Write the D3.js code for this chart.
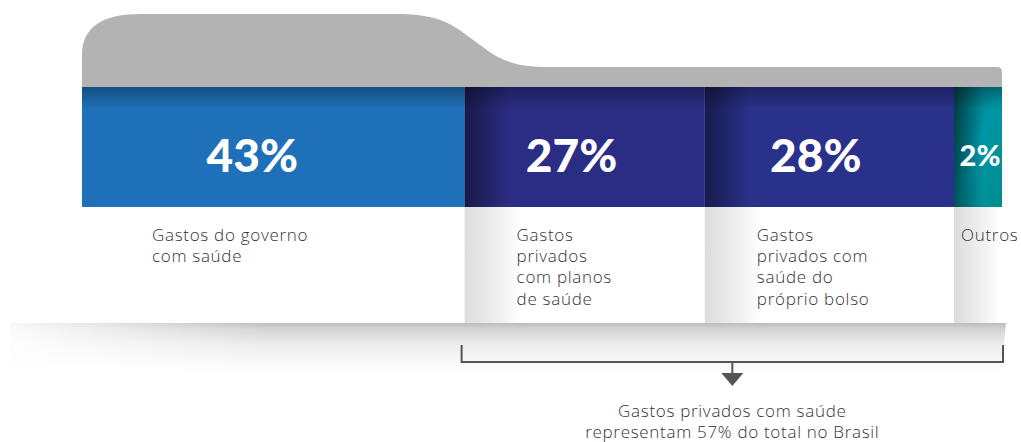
<!DOCTYPE html>
<html><head><meta charset="utf-8">
<script src="https://cdn.jsdelivr.net/npm/d3@7"></script>
<style>body{margin:0;background:#fff}svg{display:block}</style>
</head><body>
<svg id="c" width="1021" height="442"></svg>
<script>
// ---- data ----
const categories = ["governo", "planos", "bolso", "outros"];
const values = [43, 27, 28, 2];
const valueLabels = ["43%", "27%", "28%", "2%"];
const descriptions = [
  ["Gastos do governo", "com saúde"],
  ["Gastos", "privados", "com planos", "de saúde"],
  ["Gastos", "privados com", "saúde do", "próprio bolso"],
  ["Outros"]
];
const privateGroup = ["planos", "bolso", "outros"];
const summaryLines = ["Gastos privados com saúde", "representam 57% do total no Brasil"];
const colors = ["#1e71b8", "#2b2c83", "#29318a", "#00929b"];

// ---- layout ----
const svg = d3.select("#c");
const left = 82, right = 1002, barTop = 87, barBottom = 207, labelBottom = 323;
const x = d3.scaleLinear().domain([0, d3.sum(values)]).range([left, right]);
const minW = 48;
const rawW = values.map(v => x(v) - x(0));
const smallN = rawW.filter(w => w < minW).length;
const bigSum = d3.sum(rawW.filter(w => w >= minW));
const f = ((right - left) - smallN * minW) / bigSum;
const widths = rawW.map(w => w < minW ? minW : w * f);
const starts = [];
widths.reduce((acc, w, i) => { starts[i] = acc; return acc + w; }, left);
const segs = categories.map((c, i) => ({c, v: values[i], x0: starts[i], w: widths[i], i}));

const defs = svg.append("defs");
function lg(id, x1, y1, x2, y2, stops) {
  const g = defs.append("linearGradient").attr("id", id)
    .attr("x1", x1).attr("y1", y1).attr("x2", x2).attr("y2", y2);
  stops.forEach(s => g.append("stop").attr("offset", s[0]).attr("stop-color", s[1]).attr("stop-opacity", s[2] ?? 1));
}
lg("strip", 0, 0, 0, 1, [[0, "#bcbcbc"], [0.12, "#d4d4d4"], [0.45, "#ededed"], [1, "#ffffff"]]);
lg("stripL", 0, 0, 1, 0, [[0, "#ffffff", 0.9], [0.4, "#ffffff", 0.55], [1, "#ffffff", 0]]);
lg("panelL", 0, 0, 1, 0, [[0, "#dcdcdc"], [1, "#ffffff"]]);
lg("segL", 0, 0, 1, 0, [[0, "#000000", 0.45], [1, "#000000", 0]]);
lg("segT", 0, 0, 0, 1, [[0, "#000000", 0.3], [1, "#000000", 0]]);
lg("teal", 0, 0, 1, 1, [[0, "#006e7a"], [0.5, "#0096a6"], [1, "#008c8e"]]);

// bottom shadow strip
svg.append("path")
  .attr("d", `M10,${labelBottom} H1006 L1001,372 H10 Z`)
  .attr("fill", "url(#strip)");
svg.append("rect").attr("x", 10).attr("y", labelBottom).attr("width", 260).attr("height", 50)
  .attr("fill", "url(#stripL)");

// label panels
const panels = svg.append("g");
segs.forEach(s => {
  panels.append("rect").attr("x", s.x0).attr("y", barBottom).attr("width", s.w + (s.i === 3 ? 4 : 0))
    .attr("height", labelBottom - barBottom).attr("fill", "#fff");
  if (s.i > 0) {
    panels.append("rect").attr("x", s.x0).attr("y", barBottom).attr("width", Math.min(58, s.w))
      .attr("height", labelBottom - barBottom).attr("fill", "url(#panelL)");
  }
});

// gray tab
const b = starts[1];
svg.append("path")
  .attr("d", `M${left},${barTop} V55 C${left},26 ${left + 22},14 ${left + 58},14 H${b - 70}
    C${b - 35},14 ${b - 20},20 ${b - 5},30 L${b + 25},52 C${b + 40},62 ${b + 55},67 ${b + 85},67
    H${right - 5} Q${right},67 ${right},72 V${barTop} Z`)
  .attr("fill", "#b3b3b3");

// bars
const bars = svg.append("g");
bars.selectAll("rect.seg").data(segs).join("rect").attr("class", "seg")
  .attr("x", d => d.x0).attr("y", barTop).attr("width", d => d.w).attr("height", barBottom - barTop)
  .attr("fill", d => d.i === 3 ? "url(#teal)" : colors[d.i]);
bars.selectAll("rect.segl").data(segs.filter(d => d.i > 0)).join("rect").attr("class", "segl")
  .attr("x", d => d.x0).attr("y", barTop).attr("width", d => Math.min(45, d.w * 0.6)).attr("height", barBottom - barTop)
  .attr("fill", "url(#segL)");
bars.append("rect").attr("x", left).attr("y", barTop).attr("width", right - left).attr("height", 22)
  .attr("fill", "url(#segT)");

// percentages
svg.append("g").selectAll("text").data(segs).join("text")
  .attr("x", d => d.w > 100 ? d.x0 + d.w / 2 - d.w * 0.055 : d.x0 + d.w / 2 + 2)
  .attr("y", d => d.w > 100 ? 172 : 166)
  .attr("text-anchor", "middle")
  .attr("font-family", "Lato, 'Open Sans', sans-serif")
  .attr("font-weight", 900)
  .attr("font-size", d => d.w > 100 ? 46 : 29)
  .attr("fill", "#fff")
  .text(d => valueLabels[d.i]);

// descriptions
const font = "'Open Sans', Lato, sans-serif";
const desc = svg.append("g").attr("font-family", font).attr("font-weight", 300)
  .attr("font-size", 17).attr("letter-spacing", 0.7).attr("fill", "#333");
segs.forEach(s => {
  const tx = s.i === 0 ? s.x0 + 70 : (s.w > 100 ? s.x0 + 52 : s.x0 + 7);
  const t = desc.append("text").attr("x", tx).attr("y", 241);
  descriptions[s.i].forEach((line, k) => {
    t.append("tspan").attr("x", tx).attr("y", 241 + k * 21.2).text(line);
  });
});

// bracket
const grp = segs.filter(s => privateGroup.includes(s.c));
const bx0 = grp[0].x0 - 3, bx1 = grp[grp.length - 1].x0 + grp[grp.length - 1].w + 1;
const bmid = (bx0 + bx1) / 2;
svg.append("path")
  .attr("d", `M${bx0},345 V362 H${bx1} V345 M${bmid},362 V373`)
  .attr("fill", "none").attr("stroke", "#555").attr("stroke-width", 2);
svg.append("path")
  .attr("d", `M${bmid - 11},373 H${bmid + 11} L${bmid},386 Z`)
  .attr("fill", "#555");

// summary
svg.append("g").selectAll("text").data(summaryLines).join("text")
  .attr("x", bmid).attr("y", (d, i) => 417 + i * 21)
  .attr("text-anchor", "middle")
  .attr("font-family", font).attr("font-weight", 300)
  .attr("font-size", 17).attr("letter-spacing", 0.7).attr("fill", "#333")
  .text(d => d);
</script>
</body></html>
